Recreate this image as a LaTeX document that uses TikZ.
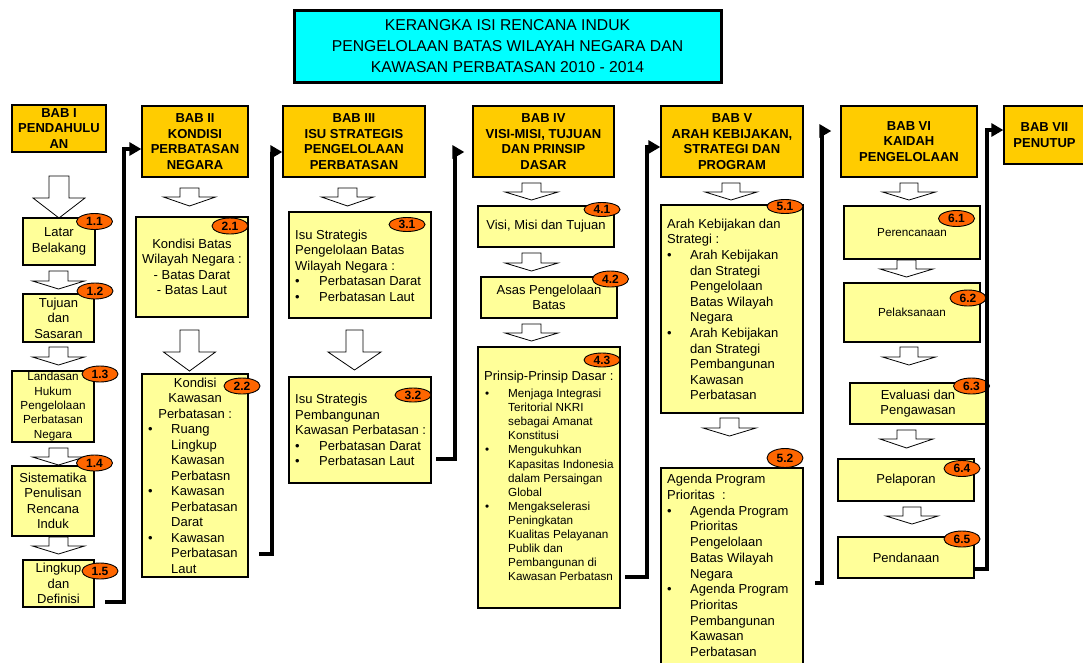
\documentclass[tikz,border=0pt]{standalone}
\usepackage{fontspec}
\setmainfont{Liberation Sans}
\usetikzlibrary{arrows.meta,shapes.geometric}
\definecolor{hdrc}{HTML}{FFCC00}
\definecolor{boxc}{HTML}{FFFF99}
\definecolor{badgec}{HTML}{FF6600}
\definecolor{titlec}{HTML}{00FFFF}
\newcommand{\fsz}[2]{\fontsize{#1}{#2}\selectfont}
\newcommand{\myb}{\makebox[23pt][l]{•}}
\newcommand{\myi}{\hspace*{23pt}}
\newcommand{\bx}[7]{\node[#2,minimum width={(#5)-(#3)},minimum height={(#6)-(#4)}] (#1) at ({((#3)+(#5))/2},{((#4)+(#6))/2}) {#7};}
\newcommand{\barw}[6]{\draw[hollow] ({#1-#3},#2) -- ({#1+#3},#2) -- ({#1+#3},#5) -- ({#1+#4},#5) -- (#1,#6) -- ({#1-#4},#5) -- ({#1-#3},#5) -- cycle;}
\begin{document}
\begin{tikzpicture}[x=1pt,y=-1pt,
  titlebox/.style={draw=black,line width=3pt,fill=titlec,font=\fsz{15.7}{21},align=center,inner sep=0pt},
  hdr/.style={draw=black,line width=1.3pt,fill=hdrc,font=\bfseries\fsz{13}{15.5},align=center,inner sep=0pt},
  ybox/.style={draw=black,line width=1.2pt,fill=boxc,font=\fsz{13}{15.5},align=center,inner sep=0pt},
  ysmall/.style={ybox,font=\fsz{11.7}{14.3}},
  txt/.style={inner sep=0pt,align=left,anchor=west,font=\fsz{13}{15.5}},
  badge/.style={ellipse,draw=black,line width=0.9pt,fill=badgec,font=\bfseries\fsz{12}{12},inner sep=0pt,minimum width=36pt,minimum height=16pt},
  conn/.style={line width=3.2pt,-{Triangle[length=12pt,width=13pt]}},
  hollow/.style={draw=black,line width=0.8pt,fill=white}]
\useasboundingbox (0,0) rectangle (1083,662);
\fill[white] (0,0) rectangle (1083,662);

% block arrows
\barw{59}{176}{10}{26}{198}{218}
\barw{58.5}{271}{9.5}{26}{281}{289}
\barw{58.5}{347}{9.5}{26}{357}{365}
\barw{58.5}{448}{9.5}{26}{457}{465}
\barw{58.5}{537}{9.5}{26}{546}{554}
\barw{189.5}{188}{9.5}{26}{197}{206}
\barw{189.5}{330}{9.5}{26}{352}{371}
\barw{347.5}{188}{9.5}{26}{197}{206}
\barw{354.5}{330}{8.5}{26.5}{352}{370}
\barw{531.5}{183}{9.5}{26.5}{192}{200}
\barw{531.5}{253}{9.5}{26.5}{263}{271}
\barw{531.5}{324}{9.5}{26.5}{333}{341}
\barw{731}{183}{9}{26}{192}{200}
\barw{729.5}{418}{9.5}{26.5}{428}{436}
\barw{909}{183}{9}{26.5}{192}{200}
\barw{906.5}{260}{9.5}{26.5}{269}{277}
\barw{909}{347}{9}{26.5}{357}{365}
\barw{906.5}{430}{9.5}{26.5}{439}{448}
\barw{912}{507}{9}{26}{516}{524}

% title
\bx{title}{titlebox}{294}{10}{721}{82}{KERANGKA ISI RENCANA INDUK\\PENGELOLAAN BATAS WILAYAH NEGARA DAN\\KAWASAN PERBATASAN 2010 - 2014}

% headers
\bx{h1}{hdr}{12}{105}{106}{152}{BAB I\\PENDAHULU\\AN}
\bx{h2}{hdr}{142}{106}{248}{177}{BAB II\\KONDISI\\PERBATASAN\\NEGARA}
\bx{h3}{hdr}{283}{106}{425}{177}{BAB III\\ISU STRATEGIS\\PENGELOLAAN\\PERBATASAN}
\bx{h4}{hdr}{473}{106}{614}{177}{BAB IV\\VISI-MISI, TUJUAN\\DAN PRINSIP\\DASAR}
\bx{h5}{hdr}{661}{106}{803}{177}{BAB V\\ARAH KEBIJAKAN,\\STRATEGI DAN\\PROGRAM}
\bx{h6}{hdr}{841}{106}{977}{177}{BAB VI\\KAIDAH\\PENGELOLAAN}
\bx{h7}{hdr}{1004}{106}{1085}{164}{BAB VII\\PENUTUP}

% boxes
\bx{b11}{ybox}{23}{218}{95}{265}{Latar\\Belakang}
\bx{b12}{ybox}{23}{294}{94}{342}{Tujuan\\dan\\Sasaran}
\bx{b13}{ysmall}{12}{371}{94}{442}{Landasan\\Hukum\\Pengelolaan\\Perbatasan\\Negara}
\bx{b14}{ybox}{12}{466}{94}{536}{Sistematika\\Penulisan\\Rencana\\Induk}
\bx{b15}{ybox}{23}{560}{94}{607}{Lingkup\\dan\\Definisi}
\bx{b21}{ybox}{136}{217}{248}{317}{Kondisi Batas\\Wilayah Negara :\\- Batas Darat\\- Batas Laut}
\bx{b22}{ybox}{142}{374}{248}{577}{}
\bx{b31}{ybox}{289}{212}{431}{318}{}
\bx{b32}{ybox}{289}{377}{431}{483}{}
\bx{b41}{ybox}{478}{206}{614}{247}{Visi, Misi dan Tujuan}
\bx{b42}{ybox}{481}{277}{617}{318}{Asas Pengelolaan\\Batas}
\bx{b43}{ybox}{478}{347}{620}{608}{}
\bx{b51}{ybox}{661}{205}{803}{413}{}
\bx{b52}{ybox}{661}{468}{803}{667}{}
\bx{b61}{ysmall}{844}{206}{980}{259}{Perencanaan}
\bx{b62}{ysmall}{844}{283}{980}{342}{Pelaksanaan}
\bx{b63}{ybox}{850}{383}{986}{424}{Evaluasi dan\\Pengawasan}
\bx{b64}{ybox}{838}{459}{974}{501}{Pelaporan}
\bx{b65}{ybox}{838}{537}{974}{578}{Pendanaan}

% texts in list boxes
\node[txt] (t22) at (148,475.5) {\makebox[94pt][c]{Kondisi}\\\makebox[94pt][c]{Kawasan}\\\makebox[94pt][c]{Perbatasan :}\\\myb Ruang\\\myi Lingkup\\\myi Kawasan\\\myi Perbatasn\\\myb Kawasan\\\myi Perbatasan\\\myi Darat\\\myb Kawasan\\\myi Perbatasan\\\myi Laut};
\node[txt] (t31) at (295,265.5) {Isu Strategis\\Pengelolaan Batas\\Wilayah Negara :\\\makebox[24pt][l]{•}Perbatasan Darat\\\makebox[24pt][l]{•}Perbatasan Laut};
\node[txt] (t32) at (295,430) {Isu Strategis\\Pembangunan\\Kawasan Perbatasan :\\\makebox[24pt][l]{•}Perbatasan Darat\\\makebox[24pt][l]{•}Perbatasan Laut};
\node[txt] (t43a) at (484,377) {Prinsip-Prinsip Dasar :};
\node[txt,font=\fsz{11.7}{14.1}] (t43b) at (485,485) {\myb Menjaga Integrasi\\\myi Teritorial NKRI\\\myi sebagai Amanat\\\myi Konstitusi\\\myb Mengukuhkan\\\myi Kapasitas Indonesia\\\myi dalam Persaingan\\\myi Global\\\myb Mengakselerasi\\\myi Peningkatan\\\myi Kualitas Pelayanan\\\myi Publik dan\\\myi Pembangunan di\\\myi Kawasan Perbatasn};
\node[txt,font=\fsz{13}{15.6}] (t51) at (667,309.5) {Arah Kebijakan dan\\Strategi :\\\myb Arah Kebijakan\\\myi dan Strategi\\\myi Pengelolaan\\\myi Batas Wilayah\\\myi Negara\\\myb Arah Kebijakan\\\myi dan Strategi\\\myi Pembangunan\\\myi Kawasan\\\myi Perbatasan};
\node[txt,font=\fsz{13}{15.7}] (t52) at (667,565.5) {Agenda Program\\Prioritas\ \ :\\\myb Agenda Program\\\myi Prioritas\\\myi Pengelolaan\\\myi Batas Wilayah\\\myi Negara\\\myb Agenda Program\\\myi Prioritas\\\myi Pembangunan\\\myi Kawasan\\\myi Perbatasan};

% badges
\node[badge] (n11) at (94.5,221.5) {1.1};
\node[badge] (n12) at (95,291) {1.2};
\node[badge] (n13) at (100,374) {1.3};
\node[badge] (n14) at (94.5,463) {1.4};
\node[badge] (n15) at (100,571) {1.5};
\node[badge] (n21) at (230,226) {2.1};
\node[badge] (n22) at (242,386) {2.2};
\node[badge,minimum height=14pt] (n31) at (407,224.5) {3.1};
\node[badge,minimum height=14pt] (n32) at (413,395) {3.2};
\node[badge,minimum height=14pt] (n41) at (602,209.5) {4.1};
\node[badge] (n42) at (610.5,279) {4.2};
\node[badge,minimum height=14pt] (n43) at (602,360) {4.3};
\node[badge,minimum height=14pt] (n51) at (785,206.5) {5.1};
\node[badge,minimum height=19pt] (n52) at (785,458) {5.2};
\node[badge] (n61) at (956.5,218.5) {6.1};
\node[badge] (n62) at (968,298) {6.2};
\node[badge] (n63) at (971.5,386) {6.3};
\node[badge] (n64) at (962,468.5) {6.4};
\node[badge] (n65) at (962,539) {6.5};

% connectors
\coordinate (s1) at (105,602); \coordinate (k1) at (124,149);
\draw[conn] (s1) -| (k1) -- (k1 -| h2.west);
\coordinate (s2) at (259,554); \coordinate (k2) at (272,152);
\draw[conn] (s2) -| (k2) -- (k2 -| h3.west);
\coordinate (s3) at (436,459); \coordinate (k3) at (455,152);
\draw[conn,shorten >=8pt] (s3) -| (k3) -- (k3 -| h4.west);
\coordinate (s4) at (625,577); \coordinate (k4) at (647,147);
\draw[conn] (s4) -| (k4) -- (k4 -| h5.west);
\coordinate (s5) at (815,583); \coordinate (k5) at (822,131);
\draw[conn,shorten >=9pt] (s5) -| (k5) -- (k5 -| h6.west);
\coordinate (s6) at (974,569); \coordinate (k6) at (987,130);
\draw[conn] (s6) -| (k6) -- (k6 -| h7.west);
\end{tikzpicture}
\end{document}
